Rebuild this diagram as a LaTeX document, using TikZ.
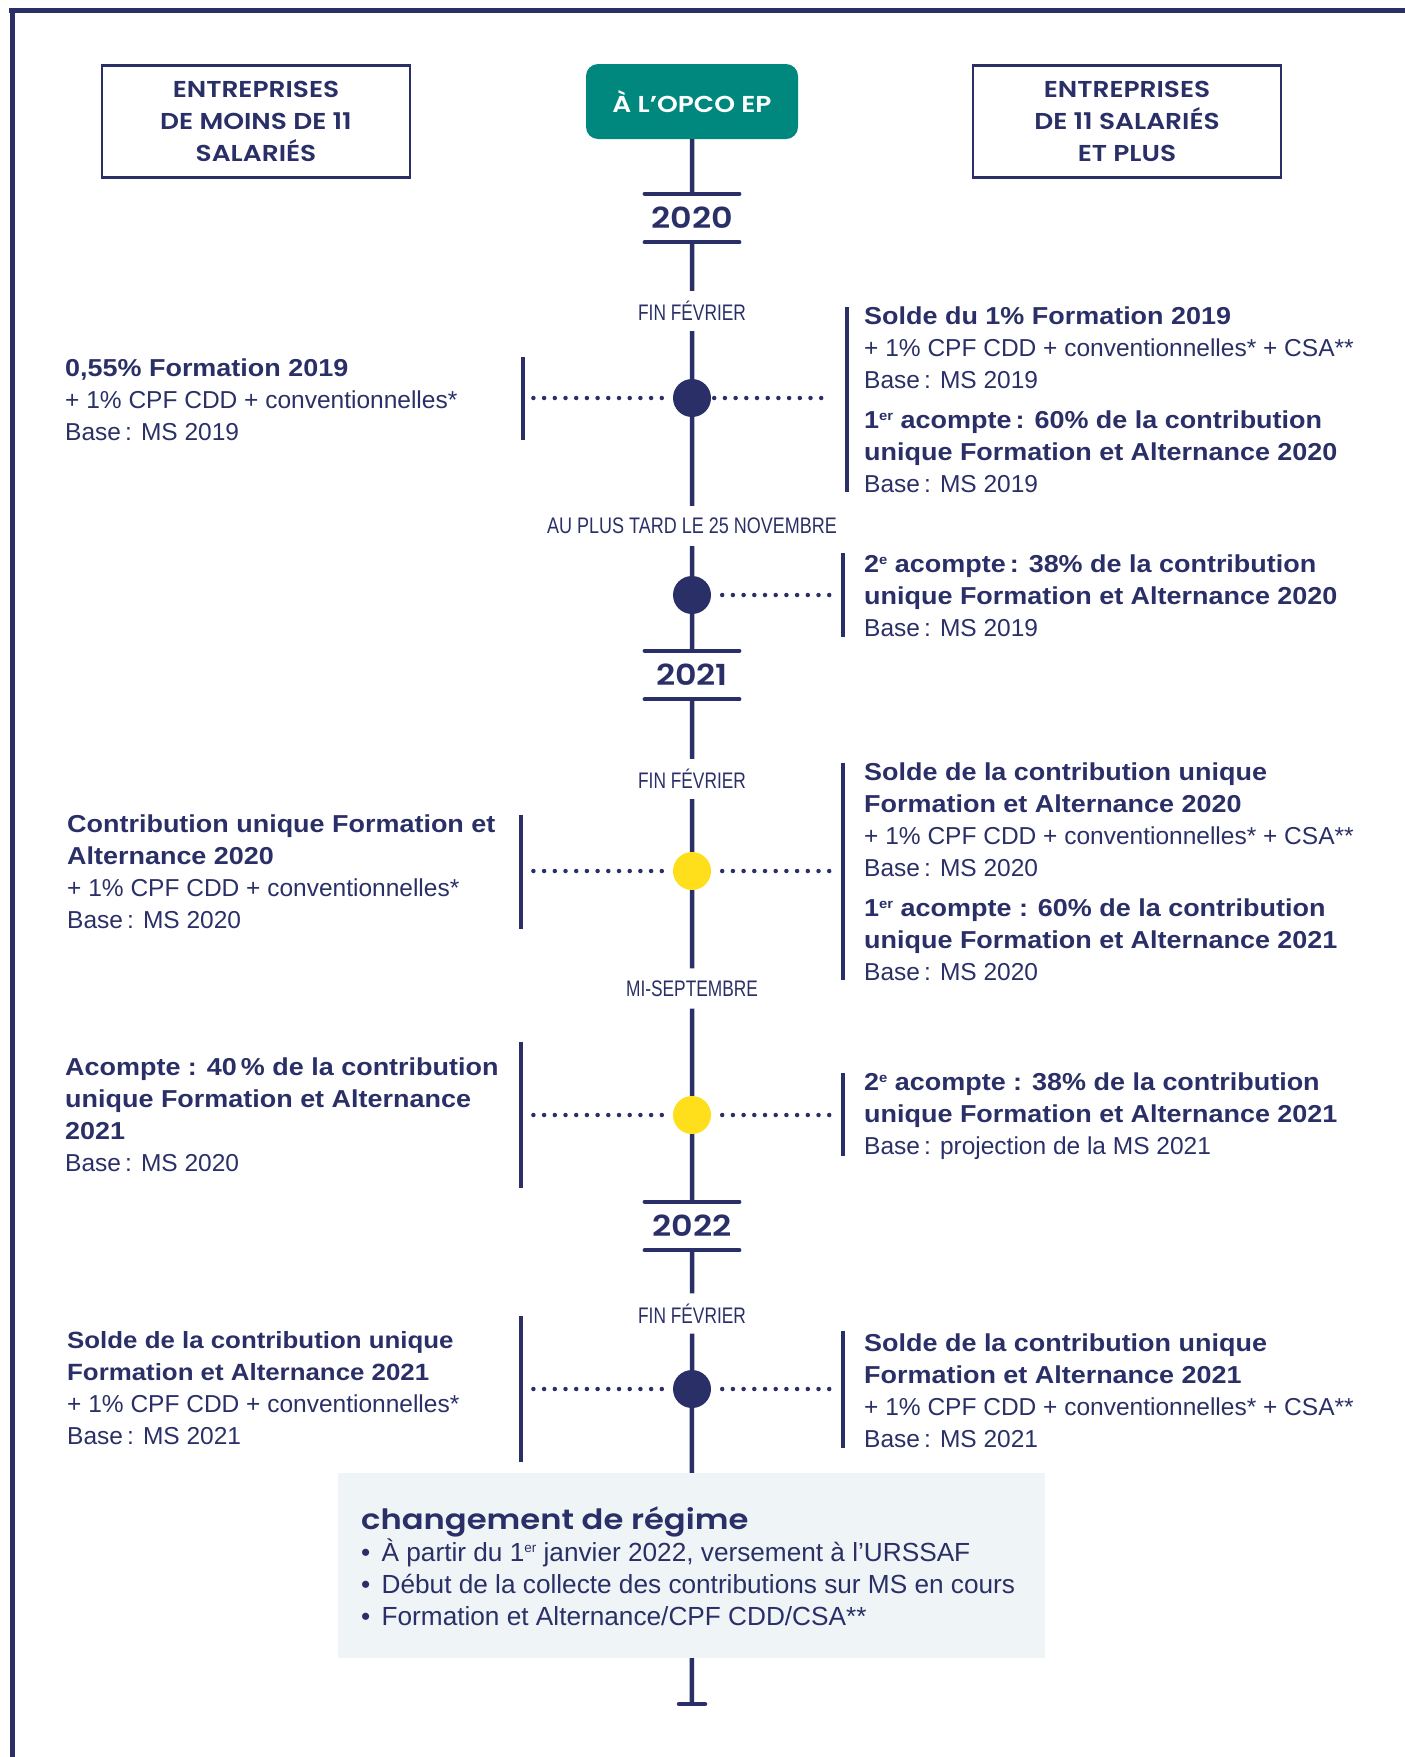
\documentclass[tikz,border=0pt]{standalone}
\usepackage{fontspec}
\setmainfont{Liberation Sans}
\newfontfamily\headfont{Poppins SemiBold}[FakeStretch=1.15]
\newfontfamily\boldfont{Liberation Sans}[FakeStretch=1.1]
\newfontfamily\condfont{Liberation Sans}[FakeStretch=0.77]

\definecolor{navy}{HTML}{2A3067}
\definecolor{opcoteal}{HTML}{00877E}
\definecolor{sunyellow}{HTML}{FFDF1B}
\definecolor{regimegrey}{HTML}{EFF4F7}

\newcommand{\txtbold}[1]{{\boldfont\bfseries #1}}
\newcommand{\upidx}[1]{\raisebox{8.5pt}{\fontsize{13.5}{13.5}\selectfont #1}}

\begin{document}
\begin{tikzpicture}[x=1pt, y=-1pt,
    every node/.style={text=navy},
    headbox/.style={draw=navy, line width=2.5pt, minimum width=308pt, minimum height=112pt, inner sep=0pt, align=center, font=\headfont\fontsize{23}{32}\selectfont},
    opcobox/.style={fill=opcoteal, rounded corners=12pt, minimum width=212pt, minimum height=75pt, inner sep=0pt, text=white, font=\headfont\fontsize{23}{23}\selectfont},
    yearlbl/.style={minimum width=94pt, minimum height=48pt, inner sep=0pt, font=\headfont\fontsize{29}{29}\selectfont},
    yearbar/.style={navy, line width=4.5pt, line cap=round},
    datelbl/.style={minimum height=40pt, inner sep=0pt, font=\condfont\fontsize{22.5}{24}\selectfont},
    timeline/.style={navy, line width=4.5pt},
    event/.style={circle, fill=navy, minimum size=38pt, inner sep=0pt},
    dotline/.style={navy, line width=4.5pt, line cap=round, dash pattern=on 0pt off 10.7pt, shorten <=11pt, shorten >=9pt},
    sidebar/.style={navy, line width=3.5pt},
    info/.style={anchor=north west, align=left, inner sep=0pt, font=\fontsize{24.5}{32}\selectfont}]

    \useasboundingbox (0,0) rectangle (1405,1757);

	% Frame
	\draw[navy, line width=5pt] (9,10.5) -- (1405,10.5);
	\draw[navy, line width=5pt] (12,8) -- (12,1757);

	% Column heads
    \node[headbox] (small) at (256,121.5) {ENTREPRISES\\DE MOINS DE 11\\SALARIÉS};
    \node[opcobox] (opco) at (692,101.5) {À L’OPCO EP};
    \node[headbox] (large) at (1127,121.5) {ENTREPRISES\\DE 11 SALARIÉS\\ET PLUS};

	% Years
    \node[yearlbl] (y20) at (692,218) {2020};
    \node[yearlbl] (y21) at (692,675) {2021};
    \node[yearlbl] (y22) at (692,1226) {2022};
    \foreach \yr in {y20,y21,y22} {
        \draw[yearbar] (\yr.north west) -- (\yr.north east);
        \draw[yearbar] (\yr.south west) -- (\yr.south east);
    }

	% Dates
    \node[datelbl] (fev1) at (692,311) {FIN FÉVRIER};
    \node[datelbl, font=\condfont\fontsize{22.5}{24}\selectfont\addfontfeatures{FakeStretch=0.8}] (nov) at (692,526) {AU PLUS TARD LE 25 NOVEMBRE};
    \node[datelbl] (fev2) at (692,779) {FIN FÉVRIER};
    \node[datelbl] (sept) at (692,988.5) {MI-SEPTEMBRE};
    \node[datelbl] (fev3) at (692,1313.5) {FIN FÉVRIER};

	% Events
    \node[event] (e1) at (692,398) {};
    \node[event] (e2) at (692,595) {};
    \node[event, fill=sunyellow] (e3) at (692,871) {};
    \node[event, fill=sunyellow] (e4) at (692,1115) {};
    \node[event] (e5) at (692,1389) {};

	% Regime box
    \node[fill=regimegrey, minimum width=707pt, minimum height=185pt, inner sep=0pt] (regime) at (691.5,1565.5) {};
    \node[info, font=\fontsize{26.2}{32}\selectfont] (regimetxt) at (361,1506) {{\headfont\fontsize{28}{28}\selectfont changement de régime}\\
        •\hspace{4pt} À partir du 1\upidx{er} janvier 2022, versement à l’URSSAF\\
        •\hspace{4pt} Début de la collecte des contributions sur MS en cours\\
        •\hspace{4pt} Formation et Alternance/CPF CDD/CSA**};
    \coordinate (tail) at (692,1704);

	% Timeline
    \draw[timeline] (opco) -- (y20) -- (fev1) -- (e1) -- (nov) -- (e2) -- (y21) -- (fev2) -- (e3) -- (sept) -- (e4) -- (y22) -- (fev3) -- (e5) -- (regime);
    \draw[timeline] (regime) -- (tail);
    \draw[yearbar] ([xshift=-13pt]tail) -- ([xshift=13pt]tail);

	% Side bars
    \draw[sidebar] (523,357) -- (523,440);
    \draw[sidebar] (847,307) -- (847,492);
    \draw[sidebar] (843,553) -- (843,637);
    \draw[sidebar] (521,815) -- (521,929);
    \draw[sidebar] (843,763) -- (843,980);
    \draw[sidebar] (521,1042) -- (521,1188);
    \draw[sidebar] (843,1073) -- (843,1156);
    \draw[sidebar] (521,1316) -- (521,1462);
    \draw[sidebar] (843,1331) -- (843,1448);
    \coordinate (l1) at (523,398);
    \coordinate (r1) at (847,398);
    \coordinate (r2) at (843,595);
    \coordinate (l3) at (521,871);
    \coordinate (r3) at (843,871);
    \coordinate (l4) at (521,1115);
    \coordinate (r4) at (843,1115);
    \coordinate (l5) at (521,1389);
    \coordinate (r5) at (843,1389);

	% Dotted links
    \draw[dotline] (e1) -- (l1);
    \draw[dotline, shorten <=3pt, shorten >=22pt] (e1) -- (r1);
    \draw[dotline, shorten >=11pt] (e2) -- (r2);
    \foreach \ev/\lb/\rb in {e3/l3/r3, e4/l4/r4, e5/l5/r5} {
        \draw[dotline] (\ev) -- (\lb);
        \draw[dotline, shorten >=11pt] (\ev) -- (\rb);
    }

	% 2020
    \node[info] (txt1l) at (65,359) {\txtbold{0,55\% Formation 2019}\\
        + 1\% CPF CDD + conventionnelles*\\
        Base\,: MS 2019};
    \node[info] (txt1r) at (864,307) {\txtbold{Solde du 1\% Formation 2019}\\
        + 1\% CPF CDD + conventionnelles* + CSA**\\
        Base\,: MS 2019\\[8pt]
        \txtbold{1\upidx{er} acompte\,: 60\% de la contribution}\\
        \txtbold{unique Formation et Alternance 2020}\\
        Base\,: MS 2019};
    \node[info] (txt2r) at (864,555) {\txtbold{2\upidx{e} acompte\,: 38\% de la contribution}\\
        \txtbold{unique Formation et Alternance 2020}\\
        Base\,: MS 2019};

	% 2021
    \node[info] (txt3l) at (67,815) {\txtbold{Contribution unique Formation et}\\
        \txtbold{Alternance 2020}\\
        + 1\% CPF CDD + conventionnelles*\\
        Base\,: MS 2020};
    \node[info] (txt3r) at (864,763) {\txtbold{Solde de la contribution unique}\\
        \txtbold{Formation et Alternance 2020}\\
        + 1\% CPF CDD + conventionnelles* + CSA**\\
        Base\,: MS 2020\\[8pt]
        \txtbold{1\upidx{er} acompte : 60\% de la contribution}\\
        \txtbold{unique Formation et Alternance 2021}\\
        Base\,: MS 2020};
    \node[info] (txt4l) at (65,1058) {\txtbold{Acompte : 40\,\% de la contribution}\\
        \txtbold{unique Formation et Alternance}\\
        \txtbold{2021}\\
        Base\,: MS 2020};
    \node[info] (txt4r) at (864,1073) {\txtbold{2\upidx{e} acompte : 38\% de la contribution}\\
        \txtbold{unique Formation et Alternance 2021}\\
        Base\,: projection de la MS 2021};

	% 2022
    \node[info] (txt5l) at (67,1331) {\txtbold{\fontsize{23.5}{32}\selectfont Solde de la contribution unique}\\
        \txtbold{\fontsize{23.5}{32}\selectfont Formation et Alternance 2021}\\
        + 1\% CPF CDD + conventionnelles*\\
        Base\,: MS 2021};
    \node[info] (txt5r) at (864,1334) {\txtbold{Solde de la contribution unique}\\
        \txtbold{Formation et Alternance 2021}\\
        + 1\% CPF CDD + conventionnelles* + CSA**\\
        Base\,: MS 2021};

\end{tikzpicture}
\end{document}
